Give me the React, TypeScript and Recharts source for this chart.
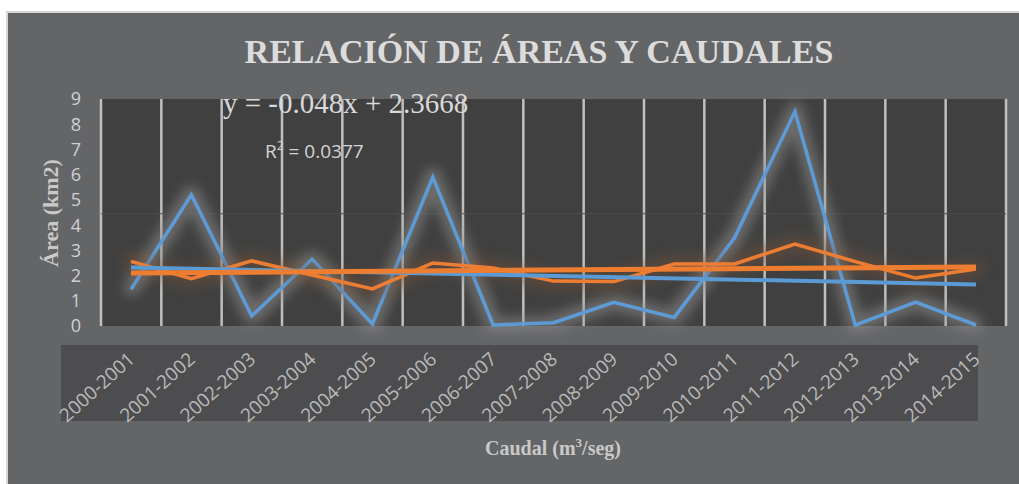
import React from 'react';
import { LineChart, Line, XAxis, YAxis, CartesianGrid, ReferenceLine } from 'recharts';

const categories = [
  '2000-2001', '2001-2002', '2002-2003', '2003-2004', '2004-2005',
  '2005-2006', '2006-2007', '2007-2008', '2008-2009', '2009-2010',
  '2010-2011', '2011-2012', '2012-2013', '2013-2014', '2014-2015',
];
const areaValues = [1.45, 5.2, 0.4, 2.65, 0.08, 5.9, 0.04, 0.13, 0.94, 0.34, 3.5, 8.5, 0.03, 0.95, 0.04];
const caudalValues = [2.56, 1.88, 2.58, 2.02, 1.47, 2.5, 2.3, 1.78, 1.76, 2.46, 2.46, 3.25, 2.55, 1.9, 2.26];
const yTicks = [0, 1, 2, 3, 4, 5, 6, 7, 8, 9];
const areaTrendStart = 2.32;
const areaTrendEnd = 1.65;
const caudalTrendStart = 2.1;
const caudalTrendEnd = 2.34;
const bandLineValue = 4.45;

const titleText = 'RELACIÓN DE ÁREAS Y CAUDALES';
const equationText = 'y = -0.048x + 2.3668';
const yLabelText = 'Área (km2)';

const data = categories.map((c, i) => ({ cat: c, area: areaValues[i], caudal: caudalValues[i] }));

const XTick = (props: any) => {
  const { x, y, payload } = props;
  const ax = x + 5;
  const ay = y + 35;
  return (
    <text
      x={ax}
      y={ay}
      transform={`rotate(-42, ${ax}, ${ay})`}
      textAnchor="end"
      fontFamily="'Open Sans', sans-serif"
      fontSize={19}
      fill="#b9b9b9"
    >
      {payload.value}
    </text>
  );
};

const vertGen = ({ offset }: any) => {
  const arr: number[] = [];
  for (let i = 0; i <= categories.length; i++) {
    arr.push(offset.left + (i * offset.width) / categories.length);
  }
  return arr;
};

const css = `
.glow-blue { filter: url(#glowBlue); }
.glow-orange { filter: url(#glowOrange); }
`;

export default function App() {
  return (
    <div style={{ position: 'absolute', left: 0, top: 0, width: 1019, height: 484, background: '#ffffff', overflow: 'hidden' }}>
      <style>{css}</style>
      <div
        style={{
          position: 'absolute', left: 6, top: 11, width: 1013, height: 473,
          background: '#646567', borderLeft: '2px solid #d6d6d6', borderTop: '2px solid #d6d6d6', boxSizing: 'border-box',
        }}
      />
      <div style={{ position: 'absolute', left: 61, top: 345, width: 917, height: 76, background: '#4d4d4f' }} />
      <svg width={1} height={1} style={{ position: 'absolute', left: 0, top: 0 }}>
        <defs>
          <filter id="glowBlue" filterUnits="userSpaceOnUse" x="0" y="0" width="1019" height="484">
            <feMorphology in="SourceAlpha" operator="dilate" radius="5" result="thick" />
            <feGaussianBlur in="thick" stdDeviation="6" result="blur" />
            <feFlood floodColor="#8f8f8f" floodOpacity="0.55" />
            <feComposite in2="blur" operator="in" result="shadow" />
            <feMerge>
              <feMergeNode in="shadow" />
              <feMergeNode in="SourceGraphic" />
            </feMerge>
          </filter>
          <filter id="glowOrange" filterUnits="userSpaceOnUse" x="0" y="0" width="1019" height="484">
            <feMorphology in="SourceAlpha" operator="dilate" radius="5" result="thick" />
            <feGaussianBlur in="thick" stdDeviation="7" result="blur" />
            <feFlood floodColor="#7a5236" floodOpacity="0.5" />
            <feComposite in2="blur" operator="in" result="shadow" />
            <feMerge>
              <feMergeNode in="shadow" />
              <feMergeNode in="SourceGraphic" />
            </feMerge>
          </filter>
        </defs>
      </svg>
      <div style={{ position: 'absolute', left: 0, top: 0 }}>
        <LineChart width={1019} height={484} data={data} margin={{ top: 99, right: 13, bottom: 0, left: 0 }}>
          <CartesianGrid
            horizontal={false}
            vertical
            fill="#404040"
            stroke="#c0c0c0"
            strokeWidth={2.5}
            verticalCoordinatesGenerator={vertGen}
          />
          <ReferenceLine y={bandLineValue} stroke="#4b4b4b" strokeWidth={1} />
          <XAxis
            dataKey="cat"
            height={158}
            padding={{ left: 30, right: 30 }}
            axisLine={false}
            tickLine={false}
            tickSize={0}
            tickMargin={0}
            interval={0}
            tick={<XTick />}
          />
          <YAxis
            width={101}
            domain={[0, 9]}
            ticks={yTicks}
            interval={0}
            axisLine={false}
            tickLine={false}
            tickSize={0}
            tickMargin={20}
            tick={{ fill: '#d0d0d0', fontSize: 18, fontFamily: "'Open Sans', sans-serif" }}
          />
          <Line
            className="glow-blue"
            dataKey="area"
            stroke="#5b9bd5"
            strokeWidth={3.5}
            dot={false}
            activeDot={false}
            isAnimationActive={false}
          />
          <Line
            className="glow-orange"
            dataKey="caudal"
            stroke="#ed7d31"
            strokeWidth={3.5}
            dot={false}
            activeDot={false}
            isAnimationActive={false}
          />
          <ReferenceLine
            segment={[
              { x: categories[0], y: areaTrendStart },
              { x: categories[categories.length - 1], y: areaTrendEnd },
            ]}
            stroke="#5b9bd5"
            strokeWidth={4}
          />
          <ReferenceLine
            segment={[
              { x: categories[0], y: caudalTrendStart },
              { x: categories[categories.length - 1], y: caudalTrendEnd },
            ]}
            stroke="#ed7d31"
            strokeWidth={5}
          />
        </LineChart>
      </div>
      <svg width={1019} height={484} style={{ position: 'absolute', left: 0, top: 0, pointerEvents: 'none' }}>
        <text x={539} y={63} textAnchor="middle" fontFamily="'Liberation Serif', 'Times New Roman', serif" fontWeight="bold" fontSize={34} fill="#dcdcdc">
          {titleText}
        </text>
        <text x={223} y={113} fontFamily="'Liberation Serif', 'Times New Roman', serif" fontSize={29} fill="#d8d8d8">
          {equationText}
        </text>
        <text x={265} y={158} fontFamily="'Open Sans', sans-serif" fontSize={19} fill="#d4d4d4">
          R<tspan dy={-8} fontSize={12}>2</tspan><tspan dy={8}> = 0.0377</tspan>
        </text>
        <text
          x={58}
          y={213}
          transform="rotate(-90, 58, 213)"
          textAnchor="middle"
          fontFamily="'Liberation Serif', 'Times New Roman', serif"
          fontWeight="bold"
          fontSize={22}
          fill="#c9c9c9"
        >
          {yLabelText}
        </text>
        <text x={553} y={455} textAnchor="middle" fontFamily="'Liberation Serif', 'Times New Roman', serif" fontWeight="bold" fontSize={20} fill="#c9c9c9">
          Caudal (m<tspan dy={-8} fontSize={13}>3</tspan><tspan dy={8}>/seg)</tspan>
        </text>
      </svg>
    </div>
  );
}
